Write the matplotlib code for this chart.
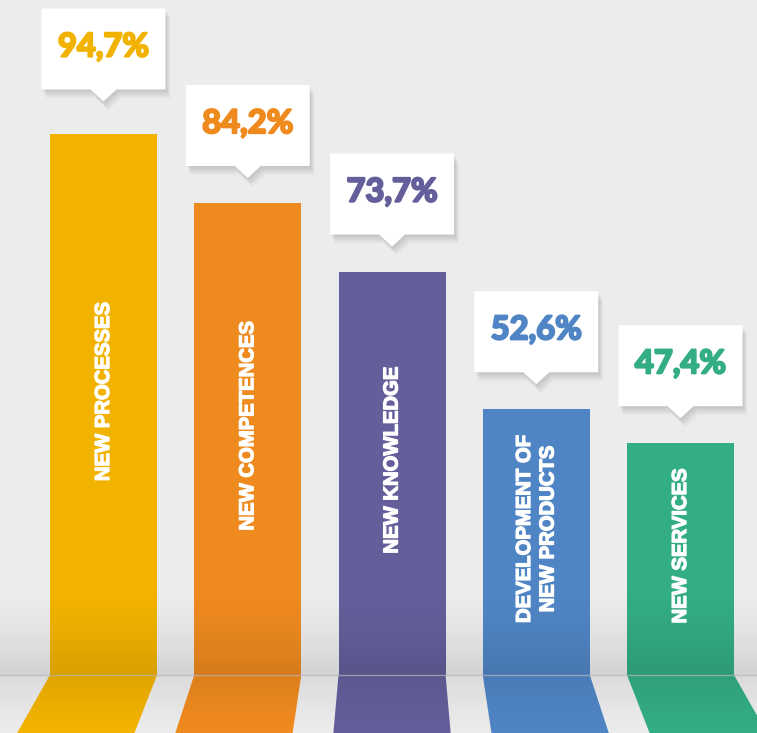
import matplotlib.pyplot as plt
import matplotlib.patheffects as pe
import numpy as np
from matplotlib.patches import Polygon
from matplotlib.transforms import ScaledTranslation

labels = ["NEW PROCESSES", "NEW COMPETENCES", "NEW KNOWLEDGE",
          "DEVELOPMENT OF\nNEW PRODUCTS", "NEW SERVICES"]
values = [94.7, 84.2, 73.7, 52.6, 47.4]
value_labels = ["94,7%", "84,2%", "73,7%", "52,6%", "47,4%"]
colors = ["#F2B300", "#EF8A1F", "#645F9B", "#5085C5", "#33AD83"]

W, H = 757, 733
HORIZON = 675          # pixel row of the floor line (from top)
BASE = 11.9            # value sitting on the floor line

fig = plt.figure(figsize=(W / 100, H / 100), dpi=100)
fig.patch.set_facecolor("#ececec")

# main bars
ax = fig.add_axes([0, (H - HORIZON) / H, 1, HORIZON / H], zorder=1)
x = np.arange(len(values))
bars = ax.bar(x, values, width=0.742, color=colors)
ax.set_xlim(-0.7175, 4.53)
ax.set_ylim(BASE, 115.3)
ax.axis("off")

# floor: bars continue in perspective below the horizon
floor = fig.add_axes([0, 0, 1, (H - HORIZON) / H], zorder=1)
floor.set_xlim(0, W)
floor.set_ylim(H, HORIZON)
floor.axis("off")
vx, k = 392, 1.096
for b, c in zip(bars, colors):
    x0 = ax.transData.transform((b.get_x(), BASE))[0]
    x1 = ax.transData.transform((b.get_x() + b.get_width(), BASE))[0]
    floor.add_patch(Polygon([(x0, HORIZON), (x1, HORIZON),
                             (vx + (x1 - vx) * k, H), (vx + (x0 - vx) * k, H)],
                            closed=True, color=c, lw=0))

# shading near the horizon
shade = fig.add_axes([0, 0, 1, 1], zorder=2)
shade.set_xlim(0, W)
shade.set_ylim(H, 0)
shade.axis("off")
rows = np.arange(H)
alpha = np.zeros(H)
up = (rows >= 585) & (rows < HORIZON)
alpha[up] = 0.11 * ((rows[up] - 585) / (HORIZON - 585)) ** 1.5
down = rows >= HORIZON
alpha[down] = 0.075 * (1 - (rows[down] - HORIZON) / (H - HORIZON)) ** 1.2
img = np.zeros((H, 1, 4))
img[:, 0, 3] = alpha
shade.imshow(img, extent=(0, W, H, 0), aspect="auto", interpolation="bilinear")
shade.axhline(HORIZON, color="#b5b5b5", lw=1, alpha=0.7)

# labels and callouts
top = fig.add_axes([0, (H - HORIZON) / H, 1, HORIZON / H], zorder=3,
                   sharex=ax, sharey=ax)
top.axis("off")

bw, bh, pw, ph, gap = 1.24, 0.81, 0.13, 0.12, 0.25
for i, (v, lab, vl, c) in enumerate(zip(values, labels, value_labels, colors)):
    top.text(i, (BASE + v) / 2 + 2.0, lab, rotation=90, ha="center", va="center",
             color="white", fontsize=14.6, fontweight="bold",
             family="Liberation Sans", multialignment="center", linespacing=1.3,
             path_effects=[pe.withStroke(linewidth=0.9, foreground="white")])
    trans = fig.dpi_scale_trans + ScaledTranslation(i, v, top.transData)
    y0 = gap + (0.08 if i == 0 else 0)
    shape = [(0, y0), (pw, y0 + ph), (bw / 2, y0 + ph), (bw / 2, y0 + ph + bh),
             (-bw / 2, y0 + ph + bh), (-bw / 2, y0 + ph), (-pw, y0 + ph)]
    for s in range(1, 11):
        dx, dy = 0.005 * s, -0.009 * s
        top.add_patch(Polygon([(px + dx, py + dy) for px, py in shape],
                              closed=True, transform=trans, color="black",
                              alpha=0.016, lw=0, clip_on=False))
    top.add_patch(Polygon(shape, closed=True, transform=trans, color="white",
                          lw=0, clip_on=False))
    top.text(0, y0 + ph + bh / 2 + 0.02, vl, transform=trans, ha="center",
             va="center", color=c, fontsize=23.5, fontweight="bold", family="Lato",
             path_effects=[pe.withStroke(linewidth=1.6, foreground=c)])

fig.savefig("out.png", dpi=100)
